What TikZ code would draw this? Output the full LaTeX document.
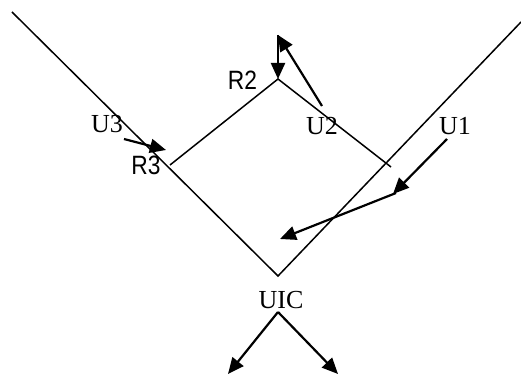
\documentclass[tikz,border=0pt]{standalone}
\usepackage{fontspec}
\setmainfont{Liberation Serif}
\newfontfamily\narrowsans[FakeStretch=0.86]{Liberation Sans}
\usetikzlibrary{arrows.meta}
\begin{document}
\begin{tikzpicture}[x=1pt, y=-1pt,
  ray/.style={line width=1.5pt},
  flow/.style={line width=2.2pt, -{Triangle[length=16pt,width=14pt]}},
  ulabel/.style={inner sep=0pt, anchor=base, font=\fontsize{26}{26}\selectfont},
  rlabel/.style={inner sep=0pt, anchor=base, font=\narrowsans\fontsize{26.5}{26.5}\selectfont}]
  \useasboundingbox (0,0) rectangle (521,374);

  % points of the ray paths
  \coordinate (inL)  at (12,12);
  \coordinate (inR)  at (521,22);
  \coordinate (apex) at (278,276);
  \coordinate (r3)   at (170,165);
  \coordinate (r2)   at (278,79);
  \coordinate (r1)   at (391,167);

  % arrow end points
  \coordinate (topA) at (278,35);
  \coordinate (u2s)  at (322,106);
  \coordinate (u3s)  at (124,139);
  \coordinate (u3e)  at (166,150);
  \coordinate (u1s)  at (447,139);
  \coordinate (u1e)  at (393,194);
  \coordinate (lngS) at (396,193);
  \coordinate (lngE) at (280,239);
  \coordinate (uicT) at (278,312);
  \coordinate (outL) at (228,374);
  \coordinate (outR) at (338,374);

  % rays
  \draw[ray] (inL) -- (apex) -- (inR);
  \draw[ray] (r3) -- (r2) -- (r1);

  % arrows
  \draw[flow] (topA) -- (r2);
  \draw[flow] (u2s) -- (topA);
  \draw[flow] (u3s) -- (u3e);
  \draw[flow] (u1s) -- (u1e);
  \draw[flow] (lngS) -- (lngE);
  \draw[flow] (uicT) -- (outL);
  \draw[flow] (uicT) -- (outR);

  % labels
  \node[ulabel] (U3)  at (107,133) {U3};
  \node[ulabel] (U2)  at (322,135) {U2};
  \node[ulabel] (U1)  at (455,135) {U1};
  \node[ulabel] (UIC) at (281,308) {UIC};
  \node[rlabel] (R2)  at (242.5,90) {R2};
  \node[rlabel] (R3)  at (146,175) {R3};
\end{tikzpicture}
\end{document}
